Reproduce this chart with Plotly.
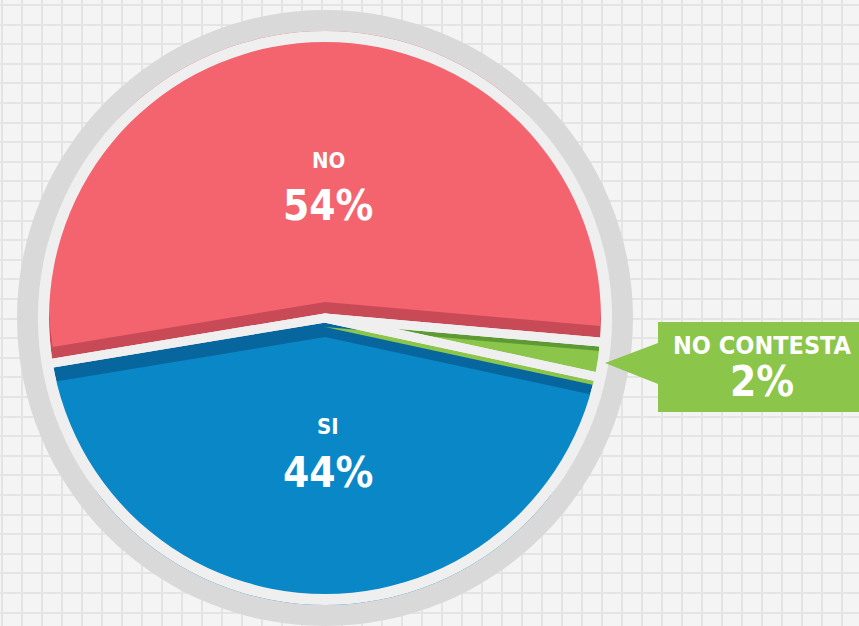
import plotly.graph_objects as go

# ---- data ----
labels = ["NO", "SI", "NO CONTESTA"]
values = [54, 44, 2]
face_colors = ["#f4646f", "#0a87c7", "#8bc54a"]
edge_colors = ["#c74a56", "#07669d", "#5e9a33"]

W, H = 859, 626
CX, CY, R = 325, 318, 276
ROT = -99.4
CLEAR = "rgba(0,0,0,0)"
BG = "#f4f4f4"
FONT = "DejaVu Sans Condensed, DejaVu Sans, sans-serif"


def dom(cx, cy, r):
    return dict(x=[(cx - r) / W, (cx + r) / W],
                y=[max(0, 1 - (cy + r) / H), min(1, 1 - (cy - r) / H)])


fig = go.Figure()
# invisible cartesian trace so the background grid is drawn
fig.add_trace(go.Scatter(x=[None], y=[None], showlegend=False, hoverinfo="skip"))

common = dict(labels=labels, values=values, sort=False, direction="counterclockwise",
              rotation=ROT, textinfo="none", showlegend=False, hoverinfo="label+percent")

# bevel (darker) layer
fig.add_trace(go.Pie(**common, domain=dom(CX, CY, R),
                     marker=dict(colors=edge_colors, line=dict(width=0))))
# top faces, each offset to reveal the darker bevel
shifts = [-16, 19, 9]
for i, s in enumerate(shifts):
    cols = [CLEAR] * len(values)
    cols[i] = face_colors[i]
    fig.add_trace(go.Pie(**common, domain=dom(CX, CY + s, R),
                         marker=dict(colors=cols, line=dict(width=0))))
# white separators between slices
fig.add_trace(go.Pie(**common, domain=dom(CX, CY, 296),
                     marker=dict(colors=[CLEAR] * len(values),
                                 line=dict(color="#efefef", width=9))))
# light ring and grey ring around the pie
ring = dict(values=[1], labels=["ring"], sort=False, textinfo="none",
            showlegend=False, hoverinfo="skip")
fig.add_trace(go.Pie(**ring, hole=R / 287, domain=dom(CX, CY, 287),
                     marker=dict(colors=["#efefef"], line=dict(width=0))))
fig.add_trace(go.Pie(**ring, hole=287 / 308, domain=dom(CX, CY, 308),
                     marker=dict(colors=["#d9d9d9"], line=dict(width=0))))

# callout box for the small slice
fig.add_shape(type="path", xref="x", yref="y", layer="above",
              path="M 658 322 L 875 322 L 875 412 L 658 412 L 658 384 L 605 363 L 658 343 Z",
              fillcolor=face_colors[2], line=dict(width=0))

# labels
label_pos = [(328, 160, 205), (328, 426, 472), (762, 345, 381)]
name_size = [22, 22, 25]
pct_size = [42, 42, 42]
for i, (x, yn, yp) in enumerate(label_pos):
    fig.add_annotation(x=x, y=yn, xref="x", yref="y", showarrow=False,
                       text=f"<b>{labels[i]}</b>",
                       font=dict(family=FONT, size=name_size[i], color="white"))
    fig.add_annotation(x=x, y=yp, xref="x", yref="y", showarrow=False,
                       text=f"<b>{values[i]}%</b>",
                       font=dict(family=FONT, size=pct_size[i], color="white"))

axis_common = dict(showgrid=True, gridcolor="#e4e4e4", gridwidth=2, showticklabels=False,
                   zeroline=False, ticks="", showline=False, fixedrange=True)
fig.update_layout(
    width=W, height=H, margin=dict(l=0, r=0, t=0, b=0),
    paper_bgcolor=BG, plot_bgcolor=BG,
    xaxis=dict(range=[0, W], tick0=1.7, dtick=20, **axis_common),
    yaxis=dict(range=[H, 0], tick0=5, dtick=19.6, **axis_common),
    showlegend=False,
)

fig.write_html("out.html", config=dict(displayModeBar=False),
               post_script="document.body.style.margin='0';document.body.style.overflow='hidden';")
